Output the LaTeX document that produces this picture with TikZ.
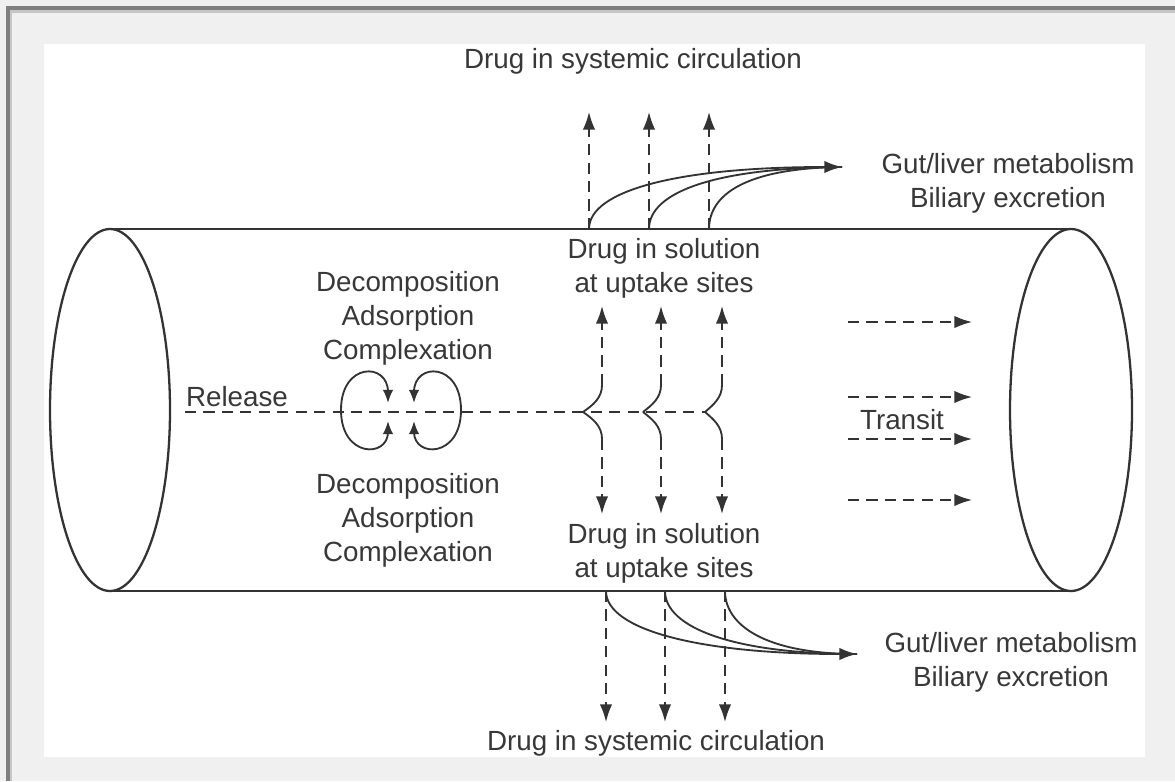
\documentclass[tikz,border=0pt]{standalone}
\usepackage{fontspec}
\setmainfont{Liberation Sans}
\usetikzlibrary{arrows.meta}
\definecolor{ink}{HTML}{333333}
\definecolor{txt}{HTML}{383838}
\definecolor{bgray}{HTML}{F0F0F0}
\definecolor{dgray}{HTML}{7F7F7F}
\definecolor{mgray}{HTML}{C6C6C6}
\begin{document}
\begin{tikzpicture}[x=0.02cm,y=-0.02cm,
  lbl/.style={text=txt,font=\fontsize{15.8pt}{19.35pt}\selectfont,align=center,inner sep=0pt},
  tube/.style={draw=ink,line width=1.3pt},
  solidln/.style={draw=ink,line width=1.05pt},
  dsh/.style={draw=ink,line width=1.0pt,dash pattern=on 6.3pt off 4.2pt},
  bigtip/.style={-{Latex[length=10pt,width=7pt]}},
  looptip/.style={{Latex[length=7.5pt,width=6pt]}-{Latex[length=7.5pt,width=6pt]}}]
% frame
\useasboundingbox (0,0) rectangle (1175,781);
\fill[bgray] (0,0) rectangle (1175,781);
\fill[dgray] (6,6) rectangle (1175,9.5);
\fill[dgray] (6,6) rectangle (9.5,781);
\fill[mgray] (9.5,9.5) rectangle (1175,12.5);
\fill[mgray] (9.5,9.5) rectangle (12,781);
\fill[white] (44,44) rectangle (1145,757);
% tube
\draw[tube] (112,229) -- (1071,229);
\draw[tube] (112,591) -- (1071,591);
\draw[tube,fill=white] (110,410) ellipse [x radius=60, y radius=181];
\draw[tube,fill=white] (1071,410) ellipse [x radius=61, y radius=181];
% text nodes
\node[lbl] (sysTop) at (633,61) {Drug in systemic circulation};
\node[lbl] (gutTop) at (1008,183) {Gut/liver metabolism\\Biliary excretion};
\node[lbl] (solTop) at (664,268) {Drug in solution\\at uptake sites};
\node[lbl] (decTop) at (408,318) {Decomposition\\Adsorption\\Complexation};
\node[lbl] (release) at (237,397) {Release};
\node[lbl] (decBot) at (408,520) {Decomposition\\Adsorption\\Complexation};
\node[lbl] (solBot) at (664,553) {Drug in solution\\at uptake sites};
\node[lbl] (transit) at (902,420) {Transit};
\node[lbl] (gutBot) at (1011,662) {Gut/liver metabolism\\Biliary excretion};
\node[lbl] (sysBot) at (656,743) {Drug in systemic circulation};
% release line
\coordinate (relS) at (185,412);
\coordinate (relE) at (705,412);
\draw[dsh] (relS) -- (relE);
% loops
\coordinate (lA) at (388,403); \coordinate (lB) at (388,421);
\coordinate (rA) at (414,403); \coordinate (rB) at (414,421);
\draw[solidln,looptip] (lA) -- (388,392) .. controls (388,362) and (341,362) .. (341,410)
   .. controls (341,458) and (388,458) .. (388,432) -- (lB);
\draw[solidln,looptip] (rA) -- (414,392) .. controls (414,362) and (461,362) .. (461,410)
   .. controls (461,458) and (414,458) .. (414,432) -- (rB);
% branches to uptake sites
\foreach \i/\b/\c in {1/583/602, 2/643/661, 3/705/722}{
  \coordinate (br\i) at (\b,412);
  \coordinate (up\i) at (\c,385);
  \coordinate (upE\i) at (\c,306);
  \coordinate (dn\i) at (\c,439);
  \coordinate (dnE\i) at (\c,514);
  \draw[solidln] (br\i) .. controls (\c-9,405) and (\c,398) .. (up\i);
  \draw[solidln] (br\i) .. controls (\c-9,419) and (\c,426) .. (dn\i);
  \draw[dsh,bigtip] (up\i) -- (upE\i);
  \draw[dsh,bigtip] (dn\i) -- (dnE\i);
}
% top: to systemic circulation and gut/liver
\coordinate (gT) at (842,167);
\foreach \i/\x in {1/589, 2/649, 3/709}{
  \coordinate (ts\i) at (\x,229);
  \coordinate (tsE\i) at (\x,112);
  \draw[dsh,bigtip] (ts\i) -- (tsE\i);
}
\draw[solidln,bigtip] (ts1) .. controls (589,190) and (680,167) .. (gT);
\draw[solidln] (ts2) .. controls (649,192) and (715,168) .. (gT);
\draw[solidln] (ts3) .. controls (709,195) and (745,168) .. (gT);
% bottom: to systemic circulation and gut/liver
\coordinate (gB) at (857,654);
\foreach \i/\x in {1/606, 2/665, 3/725}{
  \coordinate (bs\i) at (\x,591);
  \coordinate (bsE\i) at (\x,722);
  \draw[dsh,bigtip] (bs\i) -- (bsE\i);
}
\draw[solidln,bigtip] (bs1) .. controls (606,630) and (700,654) .. (gB);
\draw[solidln] (bs2) .. controls (665,628) and (735,654) .. (gB);
\draw[solidln] (bs3) .. controls (725,625) and (765,654) .. (gB);
% transit arrows
\foreach \i/\y in {1/322, 2/397, 3/439, 4/500}{
  \coordinate (trS\i) at (848,\y);
  \coordinate (trE\i) at (972,\y);
  \draw[dsh,bigtip] (trS\i) -- (trE\i);
}
\end{tikzpicture}
\end{document}
